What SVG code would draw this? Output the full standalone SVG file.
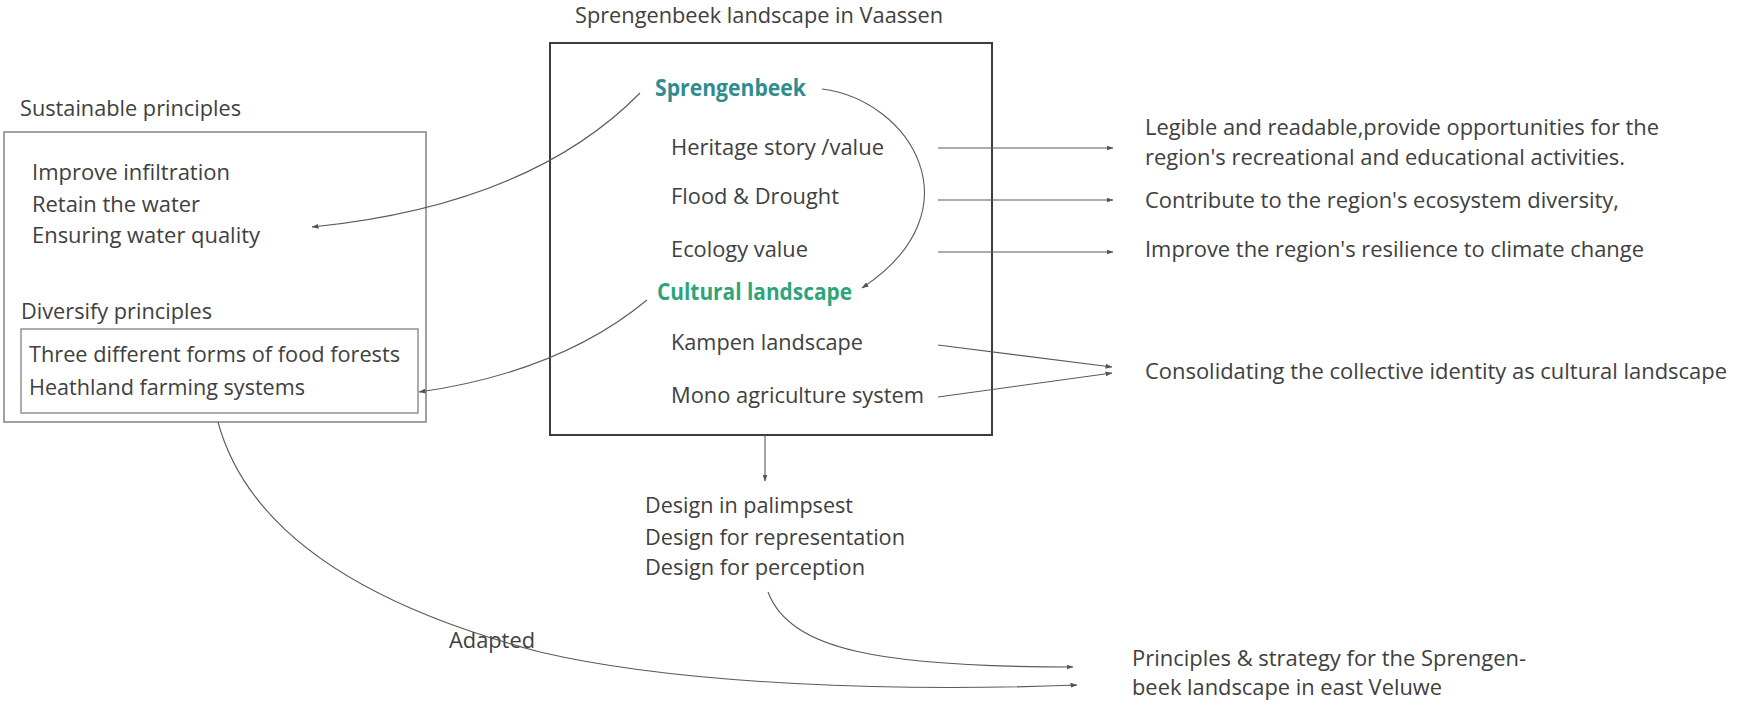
<svg xmlns="http://www.w3.org/2000/svg" width="1743" height="707" viewBox="0 0 1743 707">
<style>
text { font-family: "Open Sans", "Lato", "DejaVu Sans", sans-serif; font-size: 22.5px; fill: #404040; }
.b1 { font-weight: bold; fill: #2f8c8f; }
.b2 { font-weight: bold; fill: #2fa47a; }
.box-outer { fill: none; stroke: #8a8a8a; stroke-width: 1.6; }
.box-inner { fill: none; stroke: #8a8a8a; stroke-width: 1.4; }
.box-main { fill: none; stroke: #3c3c3c; stroke-width: 2; }
.conn { fill: none; stroke: #5a5a5a; stroke-width: 1.1; marker-end: url(#ah); }
</style>
<defs>
<marker id="ah" markerUnits="userSpaceOnUse" markerWidth="7" markerHeight="5" refX="6.5" refY="2.5" orient="auto">
<path d="M0,0 L7,2.5 L0,5 z" fill="#555"/>
</marker>
</defs>
<rect width="1743" height="707" fill="#ffffff"/>

<g id="sustainable">
<text x="20" y="116" textLength="221" lengthAdjust="spacingAndGlyphs">Sustainable principles</text>
<rect class="box-outer" x="4" y="132" width="422" height="290"/>
<text x="32" y="180" textLength="198" lengthAdjust="spacingAndGlyphs">Improve infiltration</text>
<text x="32" y="212" textLength="168" lengthAdjust="spacingAndGlyphs">Retain the water</text>
<text x="32" y="243" textLength="228" lengthAdjust="spacingAndGlyphs">Ensuring water quality</text>
</g>

<g id="diversify">
<text x="21" y="319" textLength="191" lengthAdjust="spacingAndGlyphs">Diversify principles</text>
<rect class="box-inner" x="21" y="329" width="397" height="84"/>
<text x="29" y="362" textLength="371" lengthAdjust="spacingAndGlyphs">Three different forms of food forests</text>
<text x="29" y="395" textLength="276" lengthAdjust="spacingAndGlyphs">Heathland farming systems</text>
</g>

<g id="landscape">
<text x="575" y="23" textLength="368" lengthAdjust="spacingAndGlyphs">Sprengenbeek landscape in Vaassen</text>
<rect class="box-main" x="550" y="43" width="442" height="392"/>
<text class="b1" x="655" y="96" textLength="151" lengthAdjust="spacingAndGlyphs">Sprengenbeek</text>
<text x="671" y="155" textLength="213" lengthAdjust="spacingAndGlyphs">Heritage story /value</text>
<text x="671" y="204" textLength="168" lengthAdjust="spacingAndGlyphs">Flood &amp; Drought</text>
<text x="671" y="257" textLength="137" lengthAdjust="spacingAndGlyphs">Ecology value</text>
<text class="b2" x="657" y="300" textLength="195" lengthAdjust="spacingAndGlyphs">Cultural landscape</text>
<text x="671" y="350" textLength="192" lengthAdjust="spacingAndGlyphs">Kampen landscape</text>
<text x="671" y="403" textLength="253" lengthAdjust="spacingAndGlyphs">Mono agriculture system</text>
</g>

<g id="legible">
<text x="1145" y="135" textLength="514" lengthAdjust="spacingAndGlyphs">Legible and readable,provide opportunities for the</text>
<text x="1145" y="165" textLength="480" lengthAdjust="spacingAndGlyphs">region's recreational and educational activities.</text>
</g>
<g id="ecosystem">
<text x="1145" y="208" textLength="474" lengthAdjust="spacingAndGlyphs">Contribute to the region's ecosystem diversity,</text>
</g>
<g id="resilience">
<text x="1145" y="257" textLength="499" lengthAdjust="spacingAndGlyphs">Improve the region's resilience to climate change</text>
</g>
<g id="identity">
<text x="1145" y="379" textLength="582" lengthAdjust="spacingAndGlyphs">Consolidating the collective identity as cultural landscape</text>
</g>

<g id="design">
<text x="645" y="513" textLength="208" lengthAdjust="spacingAndGlyphs">Design in palimpsest</text>
<text x="645" y="545" textLength="260" lengthAdjust="spacingAndGlyphs">Design for representation</text>
<text x="645" y="575" textLength="220" lengthAdjust="spacingAndGlyphs">Design for perception</text>
</g>

<g id="strategy">
<text x="1132" y="666" textLength="394" lengthAdjust="spacingAndGlyphs">Principles &amp; strategy for the Sprengen-</text>
<text x="1132" y="695" textLength="310" lengthAdjust="spacingAndGlyphs">beek landscape in east Veluwe</text>
</g>

<g id="adapted-label">
<text x="449" y="648" textLength="86" lengthAdjust="spacingAndGlyphs">Adapted</text>
</g>

<g id="connectors">
<path class="conn" d="M640,93 Q530,205 312,227"/>
<path class="conn" d="M647,300 Q560,372 419,392"/>
<path class="conn" d="M822,89 C910,100 980,210 862,288"/>
<path class="conn" d="M938,148 L1113,148"/>
<path class="conn" d="M938,200 L1113,200"/>
<path class="conn" d="M938,252 L1113,252"/>
<path class="conn" d="M938,345 L1112,367"/>
<path class="conn" d="M938,397 L1112,373"/>
<path class="conn" d="M765,435 L765,481"/>
<path class="conn" d="M768,592 C790,650 880,667 1073,667"/>
<path class="conn" d="M218,422 C250,540 380,610 540,652 C680,685 900,692 1077,685"/>
</g>
</svg>
